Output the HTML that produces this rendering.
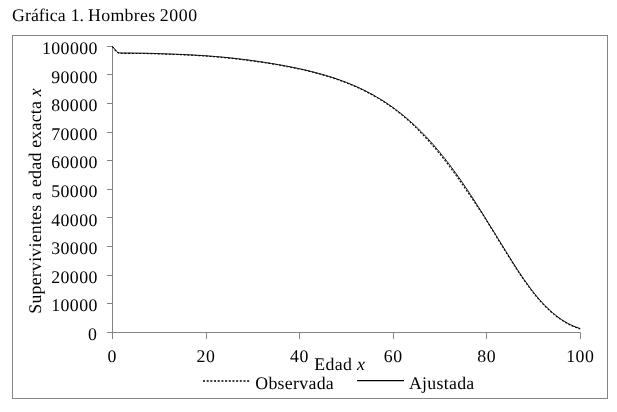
<!DOCTYPE html>
<html><head><meta charset="utf-8"><style>
html,body{margin:0;padding:0;background:#fff;width:617px;height:412px;overflow:hidden}
svg{display:block;will-change:transform;text-rendering:geometricPrecision}
text{font-family:"Liberation Serif",serif;fill:#000}
</style></head><body>
<svg width="617" height="412" viewBox="0 0 617 412">
<rect x="0" y="0" width="617" height="412" fill="#fff"/>
<g font-size="17.8">
<text x="12.0" y="21" textLength="53.71" lengthAdjust="spacing">Gráfica</text>
<text x="70.7" y="21">1.</text>
<text x="88.0" y="21" textLength="67.19" lengthAdjust="spacing">Hombres</text>
<text x="159.7" y="21" textLength="37.36" lengthAdjust="spacing">2000</text>
</g>
<rect x="12.5" y="35.5" width="595" height="363" fill="none" stroke="#858585" stroke-width="1"/>
<g stroke="#858585" stroke-width="1" fill="none">
<line x1="112.5" y1="46" x2="112.5" y2="333"/>
<line x1="112.5" y1="332.5" x2="580.5" y2="332.5"/>
<line x1="107" y1="46.5" x2="112.5" y2="46.5"/><line x1="107" y1="74.5" x2="112.5" y2="74.5"/><line x1="107" y1="103.5" x2="112.5" y2="103.5"/><line x1="107" y1="132.5" x2="112.5" y2="132.5"/><line x1="107" y1="160.5" x2="112.5" y2="160.5"/><line x1="107" y1="189.5" x2="112.5" y2="189.5"/><line x1="107" y1="217.5" x2="112.5" y2="217.5"/><line x1="107" y1="246.5" x2="112.5" y2="246.5"/><line x1="107" y1="275.5" x2="112.5" y2="275.5"/><line x1="107" y1="303.5" x2="112.5" y2="303.5"/><line x1="107" y1="332.5" x2="112.5" y2="332.5"/>
<line x1="112.5" y1="332.5" x2="112.5" y2="339"/><line x1="206.5" y1="332.5" x2="206.5" y2="339"/><line x1="299.5" y1="332.5" x2="299.5" y2="339"/><line x1="393.5" y1="332.5" x2="393.5" y2="339"/><line x1="486.5" y1="332.5" x2="486.5" y2="339"/><line x1="580.5" y1="332.5" x2="580.5" y2="339"/>
</g>
<g font-size="17.8">
<text x="42.1" y="54.0" textLength="55.2" lengthAdjust="spacing">100000</text>
<text x="51.3" y="82.6" textLength="46.0" lengthAdjust="spacing">90000</text>
<text x="51.3" y="111.2" textLength="46.0" lengthAdjust="spacing">80000</text>
<text x="51.3" y="139.7" textLength="46.0" lengthAdjust="spacing">70000</text>
<text x="51.3" y="168.3" textLength="46.0" lengthAdjust="spacing">60000</text>
<text x="51.3" y="196.9" textLength="46.0" lengthAdjust="spacing">50000</text>
<text x="51.3" y="225.5" textLength="46.0" lengthAdjust="spacing">40000</text>
<text x="51.3" y="254.1" textLength="46.0" lengthAdjust="spacing">30000</text>
<text x="51.3" y="282.6" textLength="46.0" lengthAdjust="spacing">20000</text>
<text x="51.3" y="311.2" textLength="46.0" lengthAdjust="spacing">10000</text>
<text x="88.1" y="339.8" textLength="9.2" lengthAdjust="spacing">0</text>

<text x="107.6" y="362" textLength="9.2" lengthAdjust="spacing">0</text><text x="196.6" y="362" textLength="18.4" lengthAdjust="spacing">20</text><text x="290.1" y="362" textLength="18.4" lengthAdjust="spacing">40</text><text x="383.7" y="362" textLength="18.4" lengthAdjust="spacing">60</text><text x="477.2" y="362" textLength="18.4" lengthAdjust="spacing">80</text><text x="566.2" y="362" textLength="27.6" lengthAdjust="spacing">100</text>
</g>
<text transform="translate(40.8,313.7) rotate(-90)" font-size="17.8" textLength="225.43" lengthAdjust="spacing">Supervivientes a edad exacta <tspan font-style="italic">x</tspan></text>
<g font-size="17.8">
<text x="314.3" y="370" textLength="50.69" lengthAdjust="spacing">Edad <tspan font-style="italic">x</tspan></text>
<text x="255.3" y="389" textLength="78.43" lengthAdjust="spacing">Observada</text>
<text x="408.9" y="389" textLength="65.37" lengthAdjust="spacing">Ajustada</text>
</g>
<line x1="203" y1="381" x2="249.2" y2="381" stroke="#000" stroke-width="1.6" stroke-dasharray="2,1.68"/>
<line x1="357" y1="380.6" x2="404" y2="380.6" stroke="#000" stroke-width="1.4"/>
<path d="M112.5,46.4 L116.2,50.9 Q117.6,52.75 119.5,52.85 L121.7,53.04 L124.0,53.05 L126.3,53.07 L128.7,53.08 L131.0,53.09 L133.4,53.11 L135.7,53.12 L138.0,53.14 L140.4,53.16 L142.7,53.18 L145.1,53.22 L147.4,53.28 L149.7,53.35 L152.1,53.42 L154.4,53.49 L156.8,53.56 L159.1,53.63 L161.4,53.71 L163.8,53.78 L166.1,53.86 L168.5,53.94 L170.8,54.02 L173.1,54.11 L175.5,54.20 L177.8,54.29 L180.2,54.39 L182.5,54.49 L184.8,54.59 L187.2,54.70 L189.5,54.81 L191.9,54.93 L194.2,55.06 L196.5,55.19 L198.9,55.33 L201.2,55.47 L203.6,55.62 L205.9,55.78 L208.2,55.95 L210.6,56.12 L212.9,56.31 L215.3,56.50 L217.6,56.70 L219.9,56.90 L222.3,57.12 L224.6,57.34 L227.0,57.57 L229.3,57.81 L231.6,58.06 L234.0,58.31 L236.3,58.58 L238.7,58.85 L241.0,59.13 L243.3,59.41 L245.7,59.71 L248.0,60.01 L250.4,60.32 L252.7,60.64 L255.0,60.96 L257.4,61.29 L259.7,61.63 L262.1,61.98 L264.4,62.33 L266.7,62.69 L269.1,63.06 L271.4,63.44 L273.8,63.83 L276.1,64.23 L278.4,64.63 L280.8,65.05 L283.1,65.47 L285.5,65.90 L287.8,66.35 L290.1,66.80 L292.5,67.27 L294.8,67.74 L297.2,68.23 L299.5,68.74 L301.8,69.25 L304.2,69.78 L306.5,70.32 L308.9,70.88 L311.2,71.46 L313.5,72.05 L315.9,72.65 L318.2,73.28 L320.6,73.92 L322.9,74.58 L325.2,75.26 L327.6,75.97 L329.9,76.69 L332.3,77.43 L334.6,78.20 L336.9,78.99 L339.3,79.81 L341.6,80.65 L344.0,81.52 L346.3,82.41 L348.6,83.34 L351.0,84.29 L353.3,85.28 L355.7,86.29 L358.0,87.34 L360.3,88.42 L362.7,89.53 L365.0,90.68 L367.4,91.87 L369.7,93.09 L372.0,94.35 L374.4,95.66 L376.7,97.00 L379.1,98.38 L381.4,99.81 L383.7,101.28 L386.1,102.80 L388.4,104.37 L390.8,105.98 L393.1,107.64 L395.4,109.35 L397.8,111.11 L400.1,112.92 L402.5,114.79 L404.8,116.71 L407.1,118.68 L409.5,120.71 L411.8,122.80 L414.2,124.94 L416.5,127.15 L418.8,129.41 L421.2,131.73 L423.5,134.11 L425.9,136.56 L428.2,139.06 L430.5,141.63 L432.9,144.26 L435.2,146.95 L437.6,149.70 L439.9,152.52 L442.2,155.40 L444.6,158.34 L446.9,161.34 L449.3,164.40 L451.6,167.52 L453.9,170.70 L456.3,173.93 L458.6,177.22 L461.0,180.57 L463.3,183.96 L465.6,187.41 L468.0,190.91 L470.3,194.45 L472.7,198.03 L475.0,201.65 L477.3,205.31 L479.7,209.00 L482.0,212.72 L484.4,216.46 L486.7,220.22 L489.0,224.00 L491.4,227.79 L493.7,231.58 L496.1,235.38 L498.4,239.18 L500.7,242.99 L503.1,246.80 L505.4,250.60 L507.8,254.37 L510.1,258.12 L512.4,261.83 L514.8,265.50 L517.1,269.12 L519.5,272.68 L521.8,276.17 L524.1,279.58 L526.5,282.91 L528.8,286.15 L531.2,289.29 L533.5,292.33 L535.8,295.25 L538.2,298.06 L540.5,300.74 L542.9,303.31 L545.2,305.76 L547.5,308.09 L549.9,310.31 L552.2,312.40 L554.6,314.38 L556.9,316.23 L559.2,317.97 L561.6,319.59 L563.9,321.09 L566.3,322.47 L568.6,323.75 L570.9,324.91 L573.3,325.98 L575.6,326.94 L578.0,327.81 L580.3,328.59" fill="none" stroke="#000" stroke-width="0.95" stroke-linejoin="round"/>
<path d="M112.3,46.7 L116.0,51.2 Q117.4,53.05 119.3,53.15 L121.4,53.34 L123.8,53.35 L126.1,53.37 L128.4,53.38 L130.8,53.39 L133.1,53.41 L135.4,53.42 L137.8,53.44 L140.1,53.46 L142.5,53.48 L144.8,53.52 L147.1,53.58 L149.5,53.65 L151.8,53.72 L154.2,53.79 L156.5,53.86 L158.8,53.93 L161.2,54.01 L163.5,54.08 L165.9,54.16 L168.2,54.24 L170.6,54.32 L172.9,54.41 L175.2,54.50 L177.6,54.59 L179.9,54.69 L182.2,54.79 L184.6,54.89 L186.9,55.00 L189.3,55.11 L191.6,55.23 L193.9,55.36 L196.3,55.49 L198.6,55.63 L201.0,55.77 L203.3,55.92 L205.6,56.08 L208.0,56.25 L210.3,56.42 L212.7,56.61 L215.0,56.80 L217.3,57.00 L219.7,57.20 L222.0,57.42 L224.4,57.64 L226.7,57.87 L229.1,58.11 L231.4,58.36 L233.7,58.61 L236.1,58.88 L238.4,59.15 L240.8,59.43 L243.1,59.71 L245.4,60.01 L247.8,60.31 L250.1,60.62 L252.4,60.94 L254.8,61.26 L257.1,61.59 L259.5,61.93 L261.8,62.28 L264.1,62.63 L266.5,62.99 L268.8,63.36 L271.2,63.74 L273.5,64.13 L275.8,64.53 L278.2,64.93 L280.5,65.35 L282.9,65.77 L285.2,66.20 L287.6,66.65 L289.9,67.10 L292.2,67.57 L294.6,68.04 L296.9,68.53 L299.2,69.04 L301.6,69.55 L303.9,70.08 L306.3,70.62 L308.6,71.18 L310.9,71.76 L313.3,72.35 L315.6,72.95 L318.0,73.58 L320.3,74.22 L322.6,74.88 L325.0,75.56 L327.3,76.27 L329.7,76.99 L332.0,77.73 L334.3,78.50 L336.7,79.29 L339.0,80.11 L341.4,80.95 L343.7,81.82 L346.1,82.71 L348.4,83.64 L350.7,84.59 L353.1,85.58 L355.4,86.59 L357.8,87.64 L360.1,88.72 L362.4,89.83 L364.8,90.98 L367.1,92.17 L369.4,93.39 L371.8,94.65 L374.1,95.96 L376.5,97.30 L378.8,98.68 L381.1,100.11 L383.5,101.58 L385.8,103.10 L388.2,104.67 L390.5,106.28 L392.8,107.94 L395.2,109.65 L397.5,111.41 L399.9,113.22 L402.1,115.09 L404.4,117.01 L406.7,118.98 L408.9,121.01 L411.2,123.10 L413.5,125.24 L415.7,127.45 L418.0,129.71 L420.3,132.03 L422.5,134.41 L424.8,136.86 L427.1,139.36 L429.5,141.93 L431.8,144.56 L434.2,147.25 L436.5,150.00 L438.8,152.82 L441.2,155.70 L443.5,158.64 L445.9,161.64 L448.2,164.70 L450.5,167.82 L452.9,171.00 L455.2,174.23 L457.6,177.52 L459.9,180.87 L462.2,184.26 L464.6,187.71 L467.0,191.21 L469.5,194.75 L471.9,198.33 L474.4,201.95 L476.8,205.61 L479.2,209.30 L481.7,213.02 L484.1,216.76 L486.4,220.52 L488.8,224.30 L491.1,228.09 L493.5,231.88 L495.8,235.68 L498.1,239.48 L500.5,243.29 L502.8,247.10 L505.2,250.90 L507.5,254.67 L509.8,258.42 L512.2,262.13 L514.5,265.80 L516.9,269.42 L519.2,272.98 L521.5,276.47 L523.9,279.88 L526.2,283.21 L528.6,286.45 L530.9,289.59 L533.2,292.63 L535.6,295.55 L537.9,298.36 L540.3,301.04 L542.6,303.61 L544.9,306.06 L547.3,308.39 L549.6,310.61 L552.0,312.70 L554.3,314.68 L556.6,316.53 L559.0,318.27 L561.3,319.89 L563.7,321.39 L566.0,322.77 L568.3,324.05 L570.7,325.21 L573.0,326.28 L575.4,327.24 L577.7,328.11 L580.0,328.89" fill="none" stroke="#000" stroke-width="1.05" stroke-dasharray="2,1.7"/>
</svg>
</body></html>
